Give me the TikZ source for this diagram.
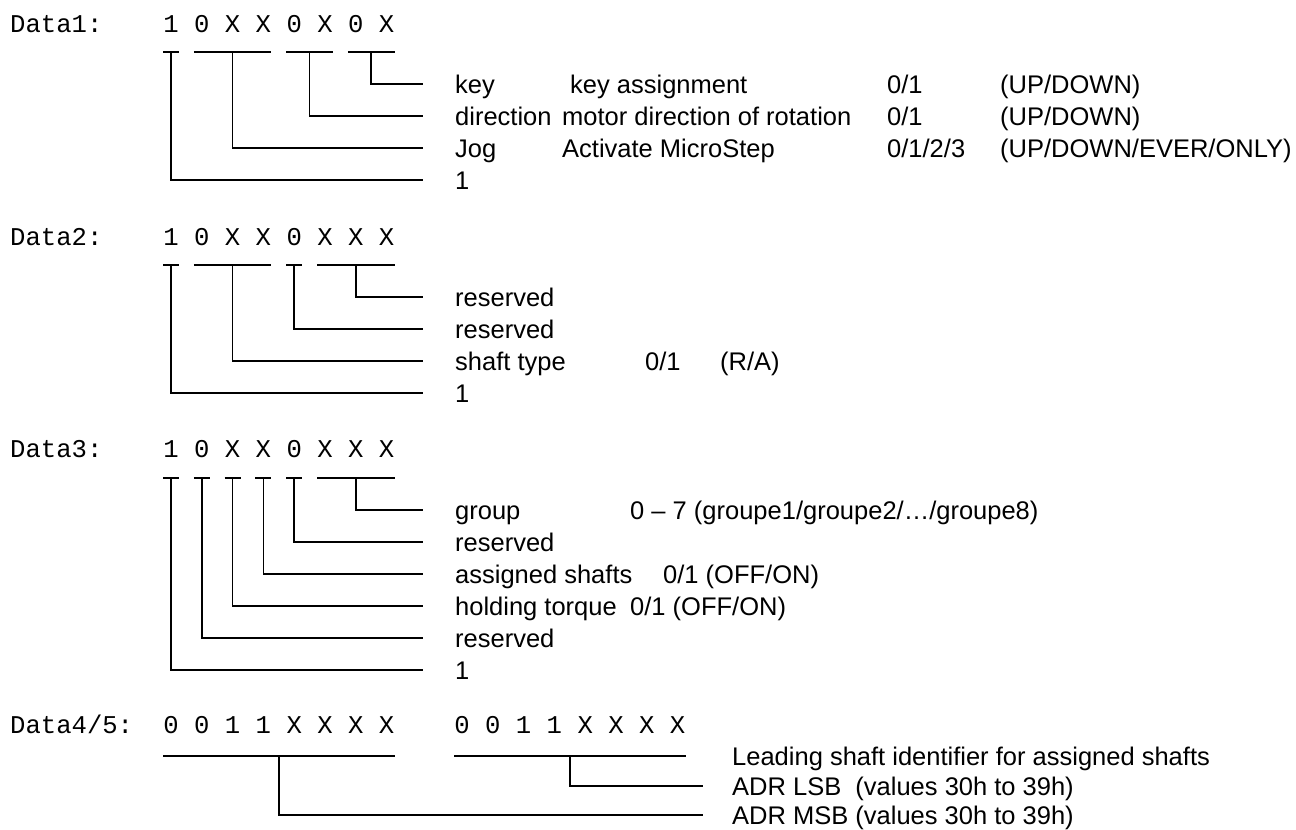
\documentclass[tikz,border=0pt]{standalone}
\usepackage{fontspec}
\setmainfont{Liberation Sans}
\newfontfamily\bitfont{Liberation Mono}
\usetikzlibrary{calc}

\tikzset{
	bit/.style={anchor=base, inner sep=0pt, font=\bitfont\fontsize{25.6}{30}\selectfont},
	dname/.style={anchor=base west, inner sep=0pt, font=\bitfont\fontsize{25.6}{30}\selectfont},
	lbl/.style={anchor=west, inner sep=0pt, text height=18pt, text depth=0pt, font=\fontsize{25.5}{30}\selectfont},
	wire/.style={line width=1.5pt},
	lead/.style={wire, shorten >=32pt}
}

\begin{document}
\begin{tikzpicture}[x=1pt,y=-1pt]
	\useasboundingbox (0,0) rectangle (1296,830);
	
	% Data1
	\node[dname] (data1) at (10,32) {Data1:};
	\foreach \b [count=\i] in {1,0,X,X,0,X,0,X}
		\node[bit] (a\i) at ({171+30.8*(\i-1)},32) {\b};
	\coordinate (abar) at (0,52);
	
	\node[lbl] (key) at (455,84) {\makebox[107pt][l]{key}\makebox[325pt][l]{\hspace{8pt}key assignment}\makebox[113pt][l]{0/1}(UP/DOWN)};
	\node[lbl] (dir) at (455,116) {\makebox[107pt][l]{direction}\makebox[325pt][l]{motor direction of rotation}\makebox[113pt][l]{0/1}(UP/DOWN)};
	\node[lbl] (jog) at (455,148) {\makebox[107pt][l]{Jog}\makebox[325pt][l]{Activate MicroStep}\makebox[113pt][l]{0/1/2/3}(UP/DOWN/EVER/ONLY)};
	\node[lbl] (aone) at (455,180) {1};
	
	\draw[wire] ($(a1|-abar)+(-8,0)$) -- ($(a1|-abar)+(8,0)$);
	\draw[wire] ($(a2|-abar)+(-8,0)$) -- ($(a4|-abar)+(8,0)$);
	\draw[wire] ($(a5|-abar)+(-8,0)$) -- ($(a6|-abar)+(8,0)$);
	\draw[wire] ($(a7|-abar)+(-8,0)$) -- ($(a8|-abar)+(8,0)$);
	\draw[lead] ($(a7|-abar)!.5!(a8|-abar)$) |- (key.west);
	\draw[lead] ($(a5|-abar)!.5!(a6|-abar)$) |- (dir.west);
	\draw[lead] (a3|-abar) |- (jog.west);
	\draw[lead] (a1|-abar) |- (aone.west);
	
	% Data2
	\node[dname] (data2) at (10,245) {Data2:};
	\foreach \b [count=\i] in {1,0,X,X,0,X,X,X}
		\node[bit] (b\i) at ({171+30.8*(\i-1)},245) {\b};
	\coordinate (bbar) at (0,265);
	
	\node[lbl] (bres1) at (455,297) {reserved};
	\node[lbl] (bres2) at (455,329) {reserved};
	\node[lbl] (shaft) at (455,361) {\makebox[190pt][l]{shaft type}\makebox[75pt][l]{0/1}(R/A)};
	\node[lbl] (bone) at (455,393) {1};
	
	\draw[wire] ($(b1|-bbar)+(-8,0)$) -- ($(b1|-bbar)+(8,0)$);
	\draw[wire] ($(b2|-bbar)+(-8,0)$) -- ($(b4|-bbar)+(8,0)$);
	\draw[wire] ($(b5|-bbar)+(-8,0)$) -- ($(b5|-bbar)+(8,0)$);
	\draw[wire] ($(b6|-bbar)+(-8,0)$) -- ($(b8|-bbar)+(8,0)$);
	\draw[lead] (b7|-bbar) |- (bres1.west);
	\draw[lead] (b5|-bbar) |- (bres2.west);
	\draw[lead] (b3|-bbar) |- (shaft.west);
	\draw[lead] (b1|-bbar) |- (bone.west);
	
	% Data3
	\node[dname] (data3) at (10,457) {Data3:};
	\foreach \b [count=\i] in {1,0,X,X,0,X,X,X}
		\node[bit] (c\i) at ({171+30.8*(\i-1)},457) {\b};
	\coordinate (cbar) at (0,478);
	
	\node[lbl] (group) at (455,510) {\makebox[175pt][l]{group}0 -- 7 (groupe1/groupe2/…/groupe8)};
	\node[lbl] (cres1) at (455,542) {reserved};
	\node[lbl] (assign) at (455,574) {\makebox[208pt][l]{assigned shafts}0/1 (OFF/ON)};
	\node[lbl] (torque) at (455,606) {\makebox[175pt][l]{holding torque}0/1 (OFF/ON)};
	\node[lbl] (cres2) at (455,638) {reserved};
	\node[lbl] (cone) at (455,670) {1};
	
	\foreach \i in {1,...,5}
		\draw[wire] ($(c\i|-cbar)+(-8,0)$) -- ($(c\i|-cbar)+(8,0)$);
	\draw[wire] ($(c6|-cbar)+(-8,0)$) -- ($(c8|-cbar)+(8,0)$);
	\draw[lead] (c7|-cbar) |- (group.west);
	\draw[lead] (c5|-cbar) |- (cres1.west);
	\draw[lead] (c4|-cbar) |- (assign.west);
	\draw[lead] (c3|-cbar) |- (torque.west);
	\draw[lead] (c2|-cbar) |- (cres2.west);
	\draw[lead] (c1|-cbar) |- (cone.west);
	
	% Data4/5
	\node[dname] (data45) at (10,733) {Data4/5:};
	\foreach \b [count=\i] in {0,0,1,1,X,X,X,X}{
		\node[bit] (m\i) at ({171+30.8*(\i-1)},733) {\b};
		\node[bit] (l\i) at ({462+30.8*(\i-1)},733) {\b};
	}
	\coordinate (dbar) at (0,756);
	
	\node[lbl] (lead) at (732,756) {Leading shaft identifier for assigned shafts};
	\node[lbl] (lsb) at (732,786) {ADR LSB\ \ (values 30h to 39h)};
	\node[lbl] (msb) at (732,815) {ADR MSB (values 30h to 39h)};
	
	\draw[wire] ($(m1|-dbar)+(-8,0)$) -- ($(m8|-dbar)+(8,0)$);
	\draw[wire] ($(l1|-dbar)+(-8,0)$) -- ($(l8|-dbar)+(8,0)$);
	\draw[wire, shorten >=29pt] ($(l4|-dbar)!.5!(l5|-dbar)$) |- (lsb.west);
	\draw[wire, shorten >=29pt] ($(m4|-dbar)!.5!(m5|-dbar)$) |- (msb.west);
	
\end{tikzpicture}
\end{document}
